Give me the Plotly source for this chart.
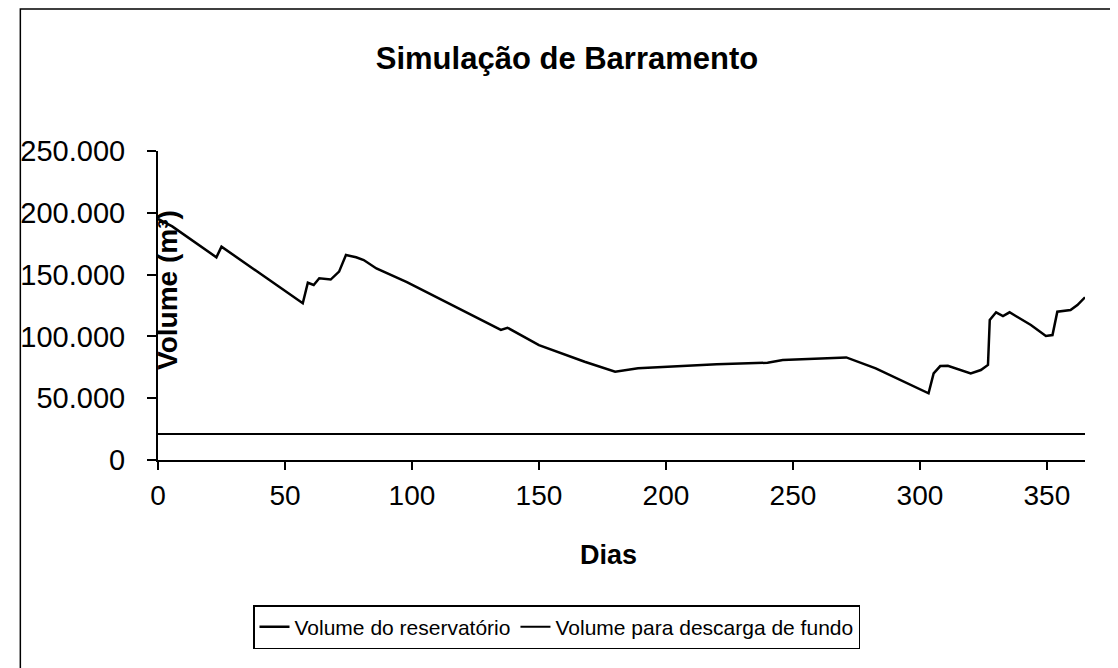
import plotly.graph_objects as go

# Data
dias = [0, 5.6, 23, 25, 57, 59, 61.3, 63.5, 68, 71.3, 74, 78, 81, 86, 98,
        135, 137.6, 150, 168, 180, 189, 207, 220, 240, 246, 271, 282.6,
        303.4, 305.4, 308, 311, 320, 324, 326.8, 327.5, 330, 332.7, 335.3,
        343.7, 349.6, 352.2, 354.1, 359.3, 362, 365]
volume_reservatorio = [195000, 189000, 164000, 172600, 126800, 143400, 141600,
                       147000, 146000, 152400, 165800, 164000, 161800, 155000,
                       144000, 105200, 107000, 93000, 79500, 71500, 74200, 76000,
                       77400, 78700, 80900, 83000, 74200, 54000, 70100, 76000,
                       76300, 70100, 72800, 76900, 113300, 119500, 116500, 119500,
                       109200, 100300, 101100, 120000, 121400, 125400, 131600]
dias_descarga = [0, 365]
volume_descarga = [21000, 21000]

x_ticks = [0, 50, 100, 150, 200, 250, 300, 350]
y_ticks = [0, 50000, 100000, 150000, 200000, 250000]

FONT = "Liberation Sans, Arial, sans-serif"

fig = go.Figure()
fig.add_trace(go.Scatter(x=dias, y=volume_reservatorio, mode="lines",
                         name="Volume do reservatório",
                         line=dict(color="black", width=2.5)))
fig.add_trace(go.Scatter(x=dias_descarga, y=volume_descarga, mode="lines",
                         name="Volume para descarga de fundo",
                         line=dict(color="black", width=2)))

W, H = 1118, 668
OFF = 8  # page offset of the figure in the browser
L, T = 149 - OFF, 151 - OFF
R = W - (1085 - OFF)
B = H - (460 - OFF)

fig.update_layout(
    width=W, height=H,
    margin=dict(l=L, r=R, t=T, b=B, pad=0),
    paper_bgcolor="white", plot_bgcolor="white",
    separators=",.",
    font=dict(family=FONT, color="black"),
    title=dict(text="<b>Simulação de Barramento</b>", xref="container", yref="container",
               x=(567 - OFF) / W, y=1 - (58 - OFF) / H, xanchor="center", yanchor="middle",
               font=dict(size=31, family=FONT, color="black")),
    xaxis=dict(range=[0, 365], tickvals=x_ticks, showgrid=False, zeroline=False,
               showline=True, linecolor="black", linewidth=2,
               ticks="outside", ticklen=8, tickwidth=2, tickcolor="black",
               ticklabelstandoff=1,
               tickfont=dict(size=28, family=FONT, color="black")),
    yaxis=dict(range=[0, 250000], tickvals=y_ticks, tickformat=",d",
               showgrid=False, zeroline=False,
               showline=True, linecolor="black", linewidth=2,
               ticks="outside", ticklen=9, tickwidth=2, tickcolor="black",
               ticklabelstandoff=16,
               tickfont=dict(size=29, family=FONT, color="black")),
    showlegend=True,
    legend=dict(orientation="h", xref="container", yref="container",
                x=(253 - OFF) / W, y=1 - (605 - OFF) / H, xanchor="left", yanchor="top",
                bordercolor="black", borderwidth=1.5, bgcolor="white",
                font=dict(size=21, family=FONT, color="black"),
                itemwidth=30, tracegroupgap=0),
)

pw = W - L - R
ph = H - T - B

def px_to_paper_x(px):
    return (px - OFF - L) / pw

def px_to_paper_y(py):
    return (H - B - (py - OFF)) / ph

fig.add_annotation(text="<b>Volume (m³)</b>", textangle=-90,
                   xref="paper", yref="paper",
                   x=px_to_paper_x(158), y=px_to_paper_y(290),
                   xanchor="center", yanchor="middle", showarrow=False,
                   font=dict(size=28, family=FONT, color="black"))
fig.add_annotation(text="<b>Dias</b>",
                   xref="paper", yref="paper",
                   x=px_to_paper_x(604), y=px_to_paper_y(555),
                   xanchor="center", yanchor="middle", showarrow=False,
                   font=dict(size=27, family=FONT, color="black"))

# outer chart border (top edge kept just inside the figure)
fig.add_shape(type="rect", xref="paper", yref="paper",
              x0=px_to_paper_x(10), x1=px_to_paper_x(1135),
              y0=px_to_paper_y(690), y1=px_to_paper_y(OFF + 1),
              line=dict(color="black", width=1.5), layer="below")

fig.write_html("out.html")
